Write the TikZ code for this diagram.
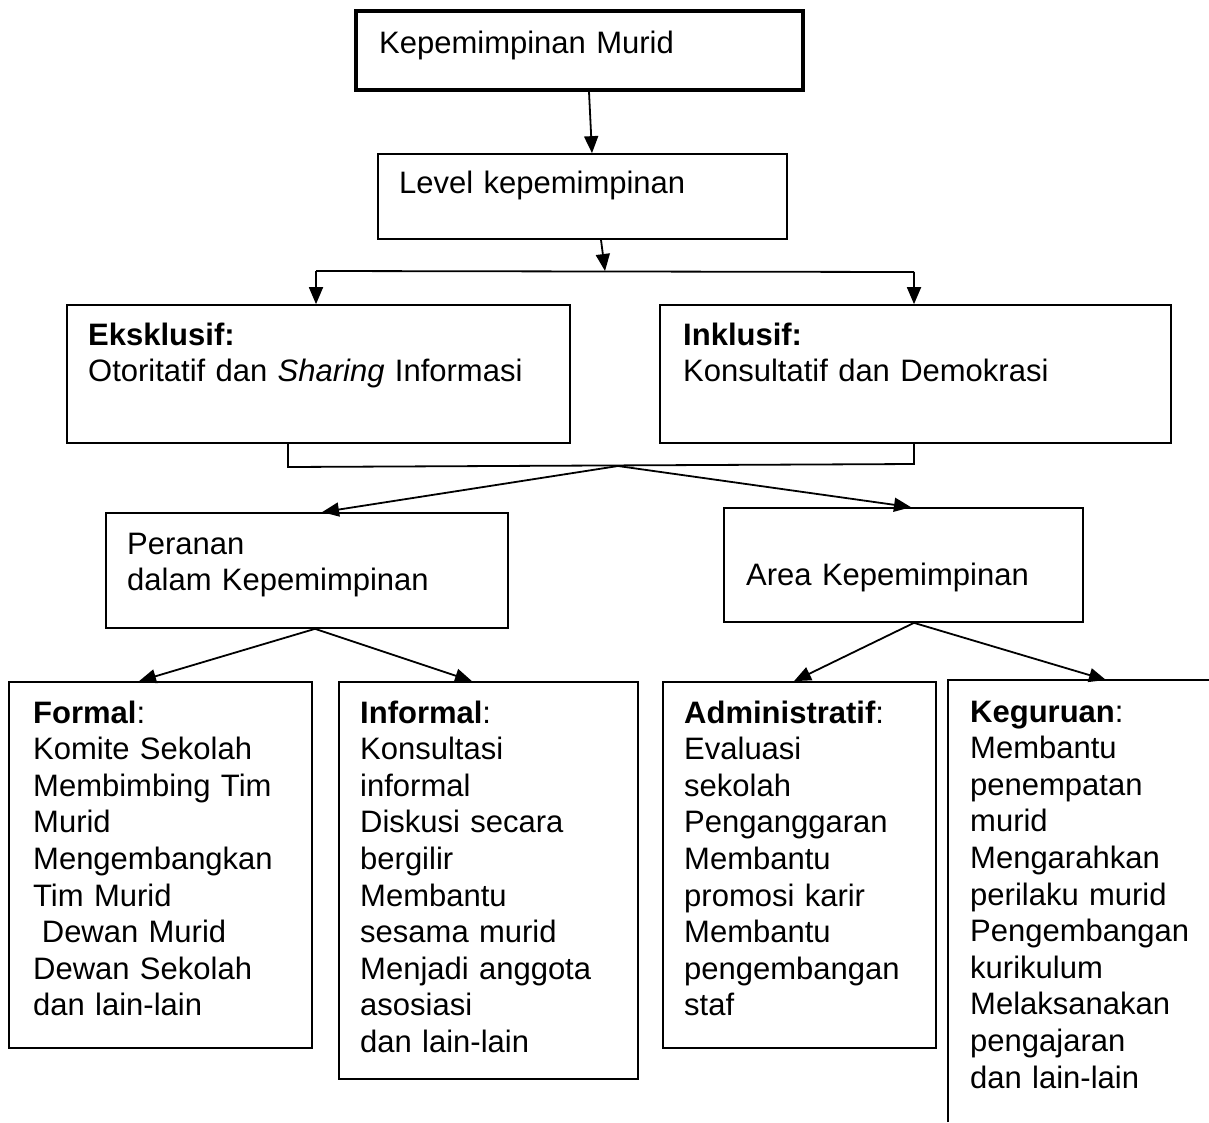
\documentclass[tikz,border=0pt]{standalone}
\usepackage{fontspec}
\setmainfont{Liberation Sans}
\usetikzlibrary{arrows.meta}
\begin{document}
\begin{tikzpicture}[x=1pt,y=-1pt,
  box/.style={draw,line width=1.7pt,rectangle,inner sep=0pt},
  topbox/.style={box,line width=3.6pt},
  txt/.style={anchor=base west,inner sep=0pt,text width=520pt,align=left,
    font=\fontsize{31}{36.6}\selectfont},
  arr/.style={line width=1.8pt,-{Triangle[length=17pt,width=14pt]}},
  ln/.style={line width=1.8pt}]
\useasboundingbox (0,0) rectangle (1209,1122);
% boxes
\node[topbox,minimum width=447pt,minimum height=79pt] (b1) at (579.5,50.5) {};
\node[box,minimum width=409pt,minimum height=85pt] (b2) at (582.5,196.5) {};
\node[box,minimum width=503pt,minimum height=138pt] (b3) at (318.5,374) {};
\node[box,minimum width=511pt,minimum height=138pt] (b4) at (915.5,374) {};
\node[box,minimum width=402pt,minimum height=115pt] (b5) at (307,570.5) {};
\node[box,minimum width=359pt,minimum height=114pt] (b6) at (903.5,565) {};
\node[box,minimum width=303pt,minimum height=366pt] (b7) at (160.5,865) {};
\node[box,minimum width=299pt,minimum height=397pt] (b8) at (488.5,880.5) {};
\node[box,minimum width=273pt,minimum height=366pt] (b9) at (799.5,865) {};
\coordinate (b10tl) at (948,680);
\coordinate (b10bl) at (948,1122);
\coordinate (b10tr) at (1209,680);
\draw[ln] (b10bl) -- (b10tl) -- (b10tr);
% texts
\node[txt] (t1) at (379,53) {Kepemimpinan Murid};
\node[txt] (t2) at (399,193) {Level kepemimpinan};
\node[txt] (t3) at (88,345) {\textbf{Eksklusif:}\\Otoritatif dan \textit{Sharing} Informasi};
\node[txt] (t4) at (683,345) {\textbf{Inklusif:}\\Konsultatif dan Demokrasi};
\node[txt] (t5) at (127,554) {Peranan\\dalam Kepemimpinan};
\node[txt] (t6) at (746,585) {Area Kepemimpinan};
\node[txt] (t7) at (33,723) {\textbf{Formal}:\\Komite Sekolah\\Membimbing Tim\\Murid\\Mengembangkan\\Tim Murid\\\hspace*{0.28em}Dewan Murid\\Dewan Sekolah\\dan lain-lain};
\node[txt] (t8) at (360,723) {\textbf{Informal}:\\Konsultasi\\informal\\Diskusi secara\\bergilir\\Membantu\\sesama murid\\Menjadi anggota\\asosiasi\\dan lain-lain};
\node[txt] (t9) at (684,723) {\textbf{Administratif}:\\Evaluasi\\sekolah\\Penganggaran\\Membantu\\promosi karir\\Membantu\\pengembangan\\staf};
\node[txt] (t10) at (970,722) {\textbf{Keguruan}:\\Membantu\\penempatan\\murid\\Mengarahkan\\perilaku murid\\Pengembangan\\kurikulum\\Melaksanakan\\pengajaran\\dan lain-lain};
% connectors
\draw[arr] ([xshift=9.5pt]b1.south) -- ([xshift=9.5pt]b2.north);
\coordinate (j1) at (605,271);
\coordinate (jL) at (316,271);
\coordinate (jR) at (914,272);
\draw[ln] (jL) -- (jR);
\draw[arr] ([xshift=18.5pt]b2.south) -- (j1);
\draw[arr] (jL) -- (jL |- b3.north);
\draw[arr] (jR) -- (jR |- b4.north);
\coordinate (brL) at (288,467);
\coordinate (brR) at (914,464);
\coordinate (apex) at (618,466);
\draw[ln] (brL |- b3.south) -- (brL) -- (brR) -- (brR |- b4.south);
\draw[arr] (apex) -- ([xshift=15pt]b5.north);
\draw[arr] (apex) -- ([xshift=7.5pt]b6.north);
\draw[arr] ([xshift=8pt]b5.south) -- ([xshift=-21.5pt]b7.north);
\draw[arr] ([xshift=8pt]b5.south) -- ([xshift=-16.5pt]b8.north);
\coordinate (kegIn) at (1106,680);
\draw[arr] ([xshift=10.5pt]b6.south) -- ([xshift=-5.5pt]b9.north);
\draw[arr] ([xshift=10.5pt]b6.south) -- (kegIn);
\end{tikzpicture}
\end{document}
